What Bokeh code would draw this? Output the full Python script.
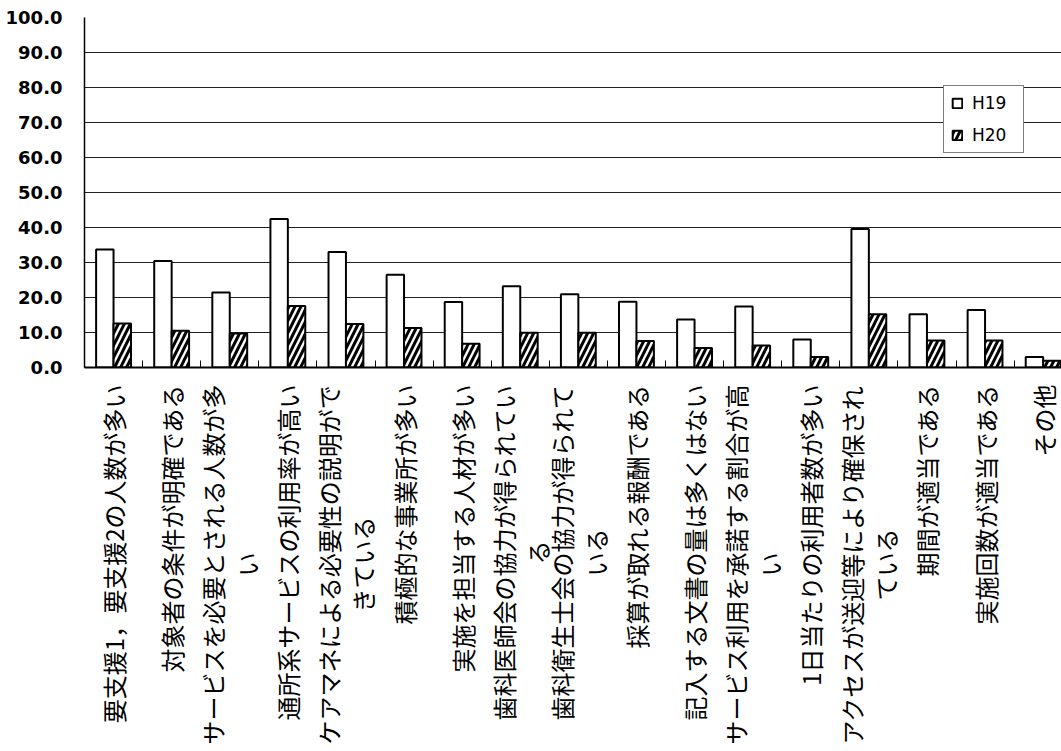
import math
from bokeh.plotting import figure
from bokeh.layouts import column
from bokeh.models import (Range1d, FixedTicker, Legend, LegendItem,
                          ColumnDataSource)
from bokeh.transform import dodge
from bokeh.core.properties import value
from bokeh.embed import file_html
from bokeh.resources import INLINE

categories = [
    "要支援1，要支援2の人数が多い",
    "対象者の条件が明確である",
    "サービスを必要とされる人数が多\nい",
    "通所系サービスの利用率が高い",
    "ケアマネによる必要性の説明がで\nきている",
    "積極的な事業所が多い",
    "実施を担当する人材が多い",
    "歯科医師会の協力が得られてい\nる",
    "歯科衛生士会の協力が得られて\nいる",
    "採算が取れる報酬である",
    "記入する文書の量は多くはない",
    "サービス利用を承諾する割合が高\nい",
    "1日当たりの利用者数が多い",
    "アクセスが送迎等により確保され\nている",
    "期間が適当である",
    "実施回数が適当である",
    "その他",
]
h19 = [33.7, 30.4, 21.4, 42.4, 33.0, 26.5, 18.7, 23.2, 20.9, 18.8, 13.7,
       17.4, 8.0, 39.6, 15.2, 16.4, 3.0]
h20 = [12.6, 10.5, 9.7, 17.6, 12.4, 11.3, 6.8, 9.9, 9.9, 7.6, 5.6,
       6.3, 3.0, 15.2, 7.7, 7.7, 1.9]
series_names = ["H19", "H20"]
y_ticks = [0, 10, 20, 30, 40, 50, 60, 70, 80, 90, 100]
y_tick_labels = ["0.0", "10.0", "20.0", "30.0", "40.0", "50.0", "60.0",
                 "70.0", "80.0", "90.0", "100.0"]

JP_FONT = "Noto Sans CJK JP"
LAT_FONT = "DejaVu Sans"
LABEL_PX = 24
W = 1061
LEFT = 84
TOP_H = 380
BOT_H = 370

n = len(categories)
src = ColumnDataSource(dict(
    x=[i + 0.5 for i in range(n)],
    h19=h19,
    h20=h20,
))

x_rng = Range1d(0, (W - LEFT) / 58.1)

p = figure(width=W, height=TOP_H,
           x_range=x_rng, y_range=Range1d(0, 100),
           output_backend="svg", toolbar_location=None,
           min_border_left=LEFT, min_border_right=0,
           min_border_top=17, min_border_bottom=TOP_H - 17 - 350)
p.outline_line_color = None
p.background_fill_color = "white"
p.border_fill_color = "white"

r1 = p.vbar(x=dodge("x", -0.15, range=p.x_range), top="h19", width=0.3,
            source=src, fill_color="white", line_color="black", line_width=2)
r2 = p.vbar(x=dodge("x", 0.15, range=p.x_range), top="h20", width=0.3,
            source=src, fill_color="white", line_color="black", line_width=2,
            hatch_pattern="right_diagonal_line", hatch_color="black",
            hatch_scale=12, hatch_weight=3)

# y axis
p.yaxis.ticker = FixedTicker(ticks=y_ticks)
p.yaxis.major_label_overrides = {t: s for t, s in zip(y_ticks, y_tick_labels)}
p.yaxis.major_label_text_font = LAT_FONT
p.yaxis.major_label_text_font_size = "18px"
p.yaxis.major_label_text_font_style = "bold"
p.yaxis.major_label_text_color = "black"
p.yaxis.major_tick_out = 0
p.yaxis.major_tick_in = 0
p.yaxis.minor_tick_out = 0
p.yaxis.minor_tick_in = 0
p.yaxis.major_label_standoff = 22
p.yaxis.axis_line_color = "black"
p.yaxis.axis_line_width = 1.5

# x axis: boundary ticks only, category labels drawn in the panel below
p.xaxis.ticker = FixedTicker(ticks=[], minor_ticks=list(range(n + 1)))
p.xaxis.major_label_text_font_size = "0px"
p.xaxis.major_label_standoff = 0
p.xaxis.major_tick_in = 0
p.xaxis.major_tick_out = 0
p.xaxis.minor_tick_in = 7
p.xaxis.minor_tick_out = 0
p.xaxis.minor_tick_line_color = "black"
p.xaxis.minor_tick_line_width = 1
p.xaxis.axis_line_color = "black"
p.xaxis.axis_line_width = 2

p.xgrid.visible = False
p.ygrid.ticker = FixedTicker(ticks=y_ticks[1:])
p.ygrid.grid_line_color = "#222222"
p.ygrid.grid_line_width = 1

legend = Legend(items=[LegendItem(label=series_names[0], renderers=[r1]),
                       LegendItem(label=series_names[1], renderers=[r2])],
                location=(859, 214), orientation="vertical",
                padding=7, spacing=12, margin=0,
                glyph_width=12, glyph_height=12, label_height=20,
                label_width=44, label_standoff=9,
                label_text_font=LAT_FONT, label_text_font_size="17px",
                label_text_color="black",
                border_line_color="black", border_line_width=1,
                background_fill_color="white", background_fill_alpha=1)
p.add_layout(legend)

# category label panel (1 y unit = 1 px), sharing the x range
p2 = figure(width=W, height=BOT_H, x_range=x_rng,
            y_range=Range1d(-BOT_H, 0),
            output_backend="svg", toolbar_location=None,
            x_axis_location=None, y_axis_location=None,
            min_border_left=LEFT, min_border_right=0,
            min_border_top=0, min_border_bottom=0)
p2.outline_line_color = None
p2.xgrid.visible = False
p2.ygrid.visible = False
p2.background_fill_color = "white"
p2.border_fill_color = "white"


def text_len(s):
    return sum(0.55 if ord(c) < 128 else 1.0 for c in s) * LABEL_PX


anchor = -(384 - TOP_H)
l1 = dict(x=[], y=[], t=[], dx=[])
l2 = dict(x=[], y=[], t=[], dx=[])
for i, cat in enumerate(categories):
    lines = cat.split("\n")
    two = len(lines) > 1
    l1["x"].append(i + 0.5)
    l1["y"].append(anchor)
    l1["t"].append(lines[0])
    l1["dx"].append(-17 if two else 0)
    if two:
        l2["x"].append(i + 0.5)
        l2["y"].append(anchor - text_len(lines[0]) / 2)
        l2["t"].append(lines[1])
        l2["dx"].append(17)

p2.text(x="x", y="y", text="t", x_offset="dx", source=ColumnDataSource(l1),
        angle=math.pi / 2, text_align="right", text_baseline="middle",
        text_font=value(JP_FONT), text_font_size=f"{LABEL_PX}px",
        text_color="black")
p2.text(x="x", y="y", text="t", x_offset="dx", source=ColumnDataSource(l2),
        angle=math.pi / 2, text_align="center", text_baseline="middle",
        text_font=value(JP_FONT), text_font_size=f"{LABEL_PX}px",
        text_color="black")

layout = column(p, p2, spacing=0)
open("out.html", "w").write(file_html(layout, INLINE))
